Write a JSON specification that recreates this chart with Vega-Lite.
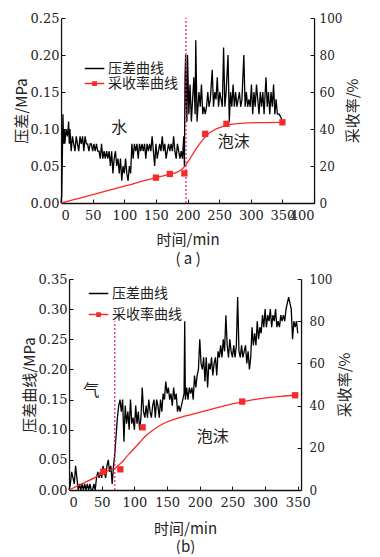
{
  "$schema": "https://vega.github.io/schema/vega-lite/v6.json",
  "padding": {"left": 14, "top": 12, "right": 0, "bottom": 0},
  "background": "white",
  "spacing": 7,
  "center": true,
  "datasets": {
    "pa": [
      {"t":0,"p":0.0},{"t":1,"p":0.01},{"t":2,"p":0.06},{"t":3,"p":0.12},{"t":4,"p":0.08},{"t":5,"p":0.10},{"t":6,"p":0.08},{"t":8,"p":0.10},{"t":10,"p":0.09},{"t":12,"p":0.11},{"t":13,"p":0.08},{"t":14,"p":0.10},{"t":16,"p":0.07},{"t":18,"p":0.09},{"t":20,"p":0.08},{"t":22,"p":0.07},{"t":24,"p":0.09},{"t":26,"p":0.08},{"t":28,"p":0.07},{"t":30,"p":0.09},{"t":32,"p":0.08},{"t":34,"p":0.09},{"t":36,"p":0.07},{"t":38,"p":0.09},{"t":40,"p":0.08},{"t":42,"p":0.08},{"t":44,"p":0.07},{"t":46,"p":0.08},{"t":48,"p":0.08},{"t":50,"p":0.07},{"t":52,"p":0.08},{"t":54,"p":0.07},{"t":56,"p":0.08},{"t":58,"p":0.07},{"t":60,"p":0.07},{"t":62,"p":0.06},{"t":64,"p":0.08},{"t":66,"p":0.06},{"t":68,"p":0.07},{"t":70,"p":0.06},{"t":72,"p":0.07},{"t":74,"p":0.06},{"t":76,"p":0.07},{"t":78,"p":0.05},{"t":80,"p":0.07},{"t":82,"p":0.04},{"t":84,"p":0.06},{"t":86,"p":0.07},{"t":88,"p":0.05},{"t":90,"p":0.06},{"t":92,"p":0.04},{"t":94,"p":0.06},{"t":96,"p":0.03},{"t":98,"p":0.05},{"t":100,"p":0.04},{"t":102,"p":0.06},{"t":104,"p":0.04},{"t":106,"p":0.03},{"t":108,"p":0.05},{"t":110,"p":0.04},{"t":112,"p":0.08},{"t":114,"p":0.06},{"t":116,"p":0.08},{"t":118,"p":0.07},{"t":120,"p":0.08},{"t":122,"p":0.06},{"t":124,"p":0.08},{"t":126,"p":0.07},{"t":128,"p":0.08},{"t":130,"p":0.07},{"t":132,"p":0.08},{"t":134,"p":0.06},{"t":136,"p":0.08},{"t":138,"p":0.07},{"t":140,"p":0.08},{"t":142,"p":0.07},{"t":144,"p":0.09},{"t":146,"p":0.07},{"t":148,"p":0.05},{"t":150,"p":0.08},{"t":152,"p":0.06},{"t":154,"p":0.07},{"t":156,"p":0.08},{"t":158,"p":0.07},{"t":160,"p":0.09},{"t":162,"p":0.07},{"t":164,"p":0.08},{"t":166,"p":0.06},{"t":168,"p":0.07},{"t":170,"p":0.08},{"t":172,"p":0.07},{"t":174,"p":0.08},{"t":176,"p":0.07},{"t":178,"p":0.09},{"t":180,"p":0.07},{"t":182,"p":0.06},{"t":184,"p":0.08},{"t":186,"p":0.07},{"t":188,"p":0.06},{"t":190,"p":0.07},{"t":192,"p":0.06},{"t":194,"p":0.09},{"t":195,"p":0.05},{"t":196,"p":0.17},{"t":197,"p":0.20},{"t":198,"p":0.13},{"t":199,"p":0.11},{"t":200,"p":0.20},{"t":202,"p":0.12},{"t":204,"p":0.16},{"t":206,"p":0.11},{"t":208,"p":0.14},{"t":210,"p":0.17},{"t":212,"p":0.12},{"t":213,"p":0.22},{"t":215,"p":0.11},{"t":218,"p":0.15},{"t":220,"p":0.13},{"t":222,"p":0.16},{"t":224,"p":0.12},{"t":226,"p":0.13},{"t":228,"p":0.12},{"t":230,"p":0.13},{"t":232,"p":0.15},{"t":234,"p":0.13},{"t":236,"p":0.14},{"t":239,"p":0.18},{"t":241,"p":0.13},{"t":243,"p":0.15},{"t":245,"p":0.14},{"t":247,"p":0.17},{"t":249,"p":0.13},{"t":251,"p":0.15},{"t":253,"p":0.14},{"t":255,"p":0.13},{"t":257,"p":0.21},{"t":259,"p":0.13},{"t":261,"p":0.15},{"t":264,"p":0.20},{"t":266,"p":0.11},{"t":268,"p":0.15},{"t":270,"p":0.13},{"t":272,"p":0.16},{"t":274,"p":0.13},{"t":276,"p":0.15},{"t":278,"p":0.13},{"t":280,"p":0.14},{"t":282,"p":0.15},{"t":284,"p":0.13},{"t":286,"p":0.14},{"t":289,"p":0.20},{"t":291,"p":0.13},{"t":293,"p":0.15},{"t":295,"p":0.13},{"t":297,"p":0.14},{"t":299,"p":0.13},{"t":301,"p":0.16},{"t":303,"p":0.12},{"t":305,"p":0.15},{"t":307,"p":0.13},{"t":309,"p":0.16},{"t":311,"p":0.14},{"t":313,"p":0.12},{"t":315,"p":0.15},{"t":317,"p":0.13},{"t":319,"p":0.15},{"t":321,"p":0.12},{"t":324,"p":0.17},{"t":326,"p":0.13},{"t":328,"p":0.15},{"t":330,"p":0.12},{"t":332,"p":0.15},{"t":334,"p":0.13},{"t":336,"p":0.16},{"t":338,"p":0.12},{"t":340,"p":0.14},{"t":342,"p":0.12},{"t":345,"p":0.12},{"t":348,"p":0.115},{"t":350,"p":0.11}
    ],
    "ca": [
      {"t":0,"r":0},{"t":20,"r":1.8},{"t":50,"r":4.5},{"t":100,"r":9.1},{"t":150,"r":13.7},{"t":172,"r":15.6},{"t":183,"r":16.6},{"t":190,"r":18},{"t":196,"r":20},{"t":203,"r":23.5},{"t":210,"r":27.4},{"t":216,"r":30.5},{"t":223,"r":33.7},{"t":230,"r":36.3},{"t":236,"r":38.2},{"t":244,"r":39.8},{"t":252,"r":40.9},{"t":262,"r":42.2},{"t":275,"r":42.8},{"t":289,"r":43.2},{"t":320,"r":43.5},{"t":351,"r":43.6}
    ],
    "ma": [
      {"t":150,"r":13.7},{"t":172,"r":15.7},{"t":195,"r":16},{"t":228,"r":37.4},{"t":261.5,"r":42.8},{"t":350,"r":43.6}
    ],
    "ra": [{"t":197.5,"p":0,"p2":0.25}],
    "ta": [{"t":92,"p":0.101,"label":"水"},{"t":273,"p":0.082,"label":"泡沫"}],
    "pb": [
      {"t":0,"p":0.0},{"t":2,"p":0.01},{"t":4,"p":0.03},{"t":6,"p":0.02},{"t":8,"p":0.01},{"t":10,"p":0.04},{"t":12,"p":0.02},{"t":14,"p":0.0},{"t":16,"p":0.01},{"t":18,"p":0.0},{"t":20,"p":0.01},{"t":22,"p":0.0},{"t":24,"p":0.01},{"t":26,"p":0.0},{"t":28,"p":0.01},{"t":30,"p":0.0},{"t":32,"p":0.01},{"t":34,"p":0.0},{"t":36,"p":0.0},{"t":38,"p":0.01},{"t":40,"p":0.0},{"t":42,"p":0.02},{"t":44,"p":0.03},{"t":46,"p":0.02},{"t":48,"p":0.03},{"t":50,"p":0.02},{"t":52,"p":0.04},{"t":54,"p":0.03},{"t":56,"p":0.02},{"t":58,"p":0.04},{"t":60,"p":0.05},{"t":62,"p":0.03},{"t":64,"p":0.04},{"t":66,"p":0.01},{"t":68,"p":0.04},{"t":70,"p":0.06},{"t":72,"p":0.09},{"t":74,"p":0.12},{"t":76,"p":0.14},{"t":78,"p":0.15},{"t":80,"p":0.13},{"t":82,"p":0.15},{"t":84,"p":0.08},{"t":86,"p":0.14},{"t":88,"p":0.11},{"t":90,"p":0.13},{"t":92,"p":0.10},{"t":94,"p":0.15},{"t":96,"p":0.11},{"t":98,"p":0.12},{"t":100,"p":0.10},{"t":102,"p":0.14},{"t":104,"p":0.11},{"t":106,"p":0.13},{"t":108,"p":0.10},{"t":110,"p":0.12},{"t":112,"p":0.17},{"t":114,"p":0.13},{"t":116,"p":0.12},{"t":118,"p":0.14},{"t":120,"p":0.12},{"t":122,"p":0.15},{"t":124,"p":0.13},{"t":126,"p":0.12},{"t":128,"p":0.14},{"t":130,"p":0.15},{"t":132,"p":0.12},{"t":134,"p":0.15},{"t":136,"p":0.14},{"t":138,"p":0.12},{"t":140,"p":0.15},{"t":142,"p":0.13},{"t":144,"p":0.16},{"t":146,"p":0.15},{"t":148,"p":0.18},{"t":150,"p":0.16},{"t":152,"p":0.17},{"t":154,"p":0.15},{"t":156,"p":0.16},{"t":158,"p":0.14},{"t":160,"p":0.17},{"t":162,"p":0.15},{"t":164,"p":0.16},{"t":166,"p":0.13},{"t":168,"p":0.14},{"t":170,"p":0.13},{"t":172,"p":0.14},{"t":174,"p":0.15},{"t":176,"p":0.16},{"t":177,"p":0.28},{"t":178,"p":0.15},{"t":180,"p":0.17},{"t":182,"p":0.15},{"t":184,"p":0.17},{"t":186,"p":0.16},{"t":188,"p":0.17},{"t":190,"p":0.15},{"t":192,"p":0.19},{"t":194,"p":0.17},{"t":196,"p":0.19},{"t":198,"p":0.20},{"t":200,"p":0.25},{"t":202,"p":0.21},{"t":204,"p":0.20},{"t":206,"p":0.22},{"t":208,"p":0.18},{"t":210,"p":0.22},{"t":212,"p":0.17},{"t":214,"p":0.21},{"t":216,"p":0.20},{"t":218,"p":0.22},{"t":220,"p":0.19},{"t":222,"p":0.21},{"t":224,"p":0.22},{"t":226,"p":0.19},{"t":228,"p":0.23},{"t":230,"p":0.22},{"t":232,"p":0.24},{"t":234,"p":0.22},{"t":236,"p":0.25},{"t":238,"p":0.23},{"t":240,"p":0.29},{"t":242,"p":0.24},{"t":244,"p":0.22},{"t":246,"p":0.25},{"t":248,"p":0.23},{"t":250,"p":0.22},{"t":252,"p":0.24},{"t":254,"p":0.22},{"t":256,"p":0.24},{"t":258,"p":0.32},{"t":260,"p":0.23},{"t":262,"p":0.22},{"t":264,"p":0.24},{"t":266,"p":0.22},{"t":268,"p":0.23},{"t":270,"p":0.24},{"t":272,"p":0.21},{"t":274,"p":0.23},{"t":276,"p":0.20},{"t":278,"p":0.22},{"t":280,"p":0.27},{"t":282,"p":0.24},{"t":284,"p":0.26},{"t":286,"p":0.24},{"t":288,"p":0.28},{"t":290,"p":0.25},{"t":292,"p":0.27},{"t":294,"p":0.26},{"t":296,"p":0.29},{"t":298,"p":0.27},{"t":300,"p":0.30},{"t":302,"p":0.27},{"t":304,"p":0.29},{"t":306,"p":0.28},{"t":308,"p":0.30},{"t":310,"p":0.27},{"t":312,"p":0.29},{"t":314,"p":0.28},{"t":316,"p":0.30},{"t":318,"p":0.27},{"t":320,"p":0.28},{"t":322,"p":0.27},{"t":324,"p":0.29},{"t":326,"p":0.28},{"t":328,"p":0.29},{"t":330,"p":0.28},{"t":332,"p":0.30},{"t":334,"p":0.31},{"t":336,"p":0.32},{"t":338,"p":0.31},{"t":340,"p":0.30},{"t":342,"p":0.25},{"t":344,"p":0.28},{"t":346,"p":0.27},{"t":348,"p":0.28},{"t":350,"p":0.26}
    ],
    "cb": [
      {"t":0,"r":0},{"t":20,"r":3},{"t":40,"r":6},{"t":52,"r":8.2},{"t":62,"r":9.4},{"t":70,"r":10.3},{"t":76,"r":11.8},{"t":82,"r":13.5},{"t":88,"r":15.8},{"t":94,"r":17.8},{"t":100,"r":19.8},{"t":108,"r":22.5},{"t":116,"r":25.2},{"t":126,"r":27.8},{"t":136,"r":30},{"t":148,"r":32},{"t":162,"r":33.6},{"t":180,"r":35.2},{"t":197,"r":36.6},{"t":213,"r":37.9},{"t":230,"r":39.3},{"t":250,"r":40.8},{"t":265,"r":41.8},{"t":285,"r":42.9},{"t":305,"r":43.8},{"t":325,"r":44.4},{"t":347,"r":44.9}
    ],
    "mb": [
      {"t":52.5,"r":8.7},{"t":78.5,"r":9.8},{"t":112.6,"r":29.7},{"t":265,"r":41.9},{"t":346,"r":44.9}
    ],
    "rb": [{"t":70,"p":0,"p2":0.28}],
    "tb": [{"t":34,"p":0.165,"label":"气"},{"t":220,"p":0.088,"label":"泡沫"}]
  },
  "vconcat": [
    {
      "width": 253,
      "height": 185,
      "layer": [
        {
          "layer": [
            {
              "data": {"name": "pa"},
              "mark": {"type": "line", "strokeWidth": 1.3},
              "encoding": {
                "x": {"field": "t", "type": "quantitative", "scale": {"domain": [0, 400], "nice": false},
                      "axis": {"values": [0, 50, 100, 150, 200, 250, 300, 350, 400], "tickCount": 20, "title": ["时间/min", "( a )"], "labelPadding": 10, "titlePadding": 10}},
                "y": {"field": "p", "type": "quantitative", "scale": {"domain": [0, 0.25], "nice": false},
                      "axis": {"values": [0, 0.05, 0.1, 0.15, 0.2, 0.25], "tickCount": 20, "format": ".2f", "title": "压差/MPa"}},
                "color": {"datum": "压差曲线", "type": "nominal",
                          "scale": {"domain": ["压差曲线", "采收率曲线"], "range": ["#000000", "#f52a2a"]},
                          "legend": {"orient": "none", "legendX": 26, "legendY": 43, "rowPadding": 0,
                                     "encode": {"symbols": {"update": {
                                       "shape": {"signal": "datum.value === '采收率曲线' ? 'M-1.5,0H1.5M-0.25,-0.25H0.25V0.25H-0.25Z' : 'M-1.5,0H1.5'"},
                                       "fill": {"signal": "datum.value === '采收率曲线' ? '#f52a2a' : 'transparent'"}}}}}}
              }
            },
            {
              "data": {"name": "ra"},
              "mark": {"type": "rule", "color": "#ee1c8c", "strokeDash": [2, 2], "strokeWidth": 1.3},
              "encoding": {"x": {"field": "t", "type": "quantitative"}, "y": {"field": "p", "type": "quantitative"}, "y2": {"field": "p2"}}
            },
            {
              "data": {"name": "ta"},
              "mark": {"type": "text", "font": "Noto Sans CJK SC", "fontSize": 16, "color": "#222"},
              "encoding": {"x": {"field": "t", "type": "quantitative"}, "y": {"field": "p", "type": "quantitative"}, "text": {"field": "label"}}
            }
          ]
        },
        {
          "layer": [
            {
              "data": {"name": "ca"},
              "mark": {"type": "line", "strokeWidth": 1.3, "interpolate": "monotone"},
              "encoding": {
                "x": {"field": "t", "type": "quantitative"},
                "y": {"field": "r", "type": "quantitative", "scale": {"domain": [0, 100], "nice": false},
                      "axis": {"orient": "right", "values": [0, 20, 40, 60, 80, 100], "tickCount": 20, "labelPadding": 9, "labelFontSize": 12, "title": "采收率/%", "titleAngle": 270, "titleBaseline": "top", "titlePadding": 4}},
                "color": {"datum": "采收率曲线", "type": "nominal"}
              }
            },
            {
              "data": {"name": "ma"},
              "mark": {"type": "square", "size": 40, "color": "#f52a2a", "opacity": 1},
              "encoding": {"x": {"field": "t", "type": "quantitative"}, "y": {"field": "r", "type": "quantitative"}}
            }
          ]
        }
      ],
      "resolve": {"scale": {"y": "independent"}}
    },
    {
      "width": 232,
      "height": 211,
      "layer": [
        {
          "layer": [
            {
              "data": {"name": "pb"},
              "mark": {"type": "line", "strokeWidth": 1.3},
              "encoding": {
                "x": {"field": "t", "type": "quantitative", "scale": {"domain": [0, 355], "nice": false},
                      "axis": {"values": [0, 50, 100, 150, 200, 250, 300, 350], "tickCount": 20, "title": ["时间/min", "(b)"], "labelPadding": 10, "titlePadding": 12, "titleLineHeight": 18}},
                "y": {"field": "p", "type": "quantitative", "scale": {"domain": [0, 0.35], "nice": false},
                      "axis": {"values": [0, 0.05, 0.1, 0.15, 0.2, 0.25, 0.3, 0.35], "tickCount": 20, "format": ".2f", "title": "压差曲线/MPa"}},
                "color": {"datum": "压差曲线", "type": "nominal",
                          "scale": {"domain": ["压差曲线", "采收率曲线"], "range": ["#000000", "#f52a2a"]},
                          "legend": {"orient": "none", "legendX": 22, "legendY": 7, "rowPadding": 6,
                                     "encode": {"symbols": {"update": {
                                       "shape": {"signal": "datum.value === '采收率曲线' ? 'M-1.5,0H1.5M-0.25,-0.25H0.25V0.25H-0.25Z' : 'M-1.5,0H1.5'"},
                                       "fill": {"signal": "datum.value === '采收率曲线' ? '#f52a2a' : 'transparent'"}}}}}}
              }
            },
            {
              "data": {"name": "rb"},
              "mark": {"type": "rule", "color": "#ee1c8c", "strokeDash": [2, 2], "strokeWidth": 1.3},
              "encoding": {"x": {"field": "t", "type": "quantitative"}, "y": {"field": "p", "type": "quantitative"}, "y2": {"field": "p2"}}
            },
            {
              "data": {"name": "tb"},
              "mark": {"type": "text", "font": "Noto Sans CJK SC", "fontSize": 16, "color": "#222"},
              "encoding": {"x": {"field": "t", "type": "quantitative"}, "y": {"field": "p", "type": "quantitative"}, "text": {"field": "label"}}
            }
          ]
        },
        {
          "layer": [
            {
              "data": {"name": "cb"},
              "mark": {"type": "line", "strokeWidth": 1.3, "interpolate": "monotone"},
              "encoding": {
                "x": {"field": "t", "type": "quantitative"},
                "y": {"field": "r", "type": "quantitative", "scale": {"domain": [0, 100], "nice": false},
                      "axis": {"orient": "right", "values": [0, 20, 40, 60, 80, 100], "tickCount": 20, "labelPadding": 12, "labelFontSize": 12, "title": "采收率/%", "titleAngle": 270, "titleBaseline": "top", "titlePadding": 6}},
                "color": {"datum": "采收率曲线", "type": "nominal"}
              }
            },
            {
              "data": {"name": "mb"},
              "mark": {"type": "square", "size": 40, "color": "#f52a2a", "opacity": 1},
              "encoding": {"x": {"field": "t", "type": "quantitative"}, "y": {"field": "r", "type": "quantitative"}}
            }
          ]
        }
      ],
      "resolve": {"scale": {"y": "independent"}}
    }
  ],
  "resolve": {"scale": {"color": "independent"}, "legend": {"color": "independent"}},
  "config": {
    "view": {"stroke": null},
    "axis": {
      "grid": false,
      "tickCount": 20,
      "labelOverlap": false,
      "domainColor": "#111",
      "domainWidth": 1.3,
      "tickColor": "#111",
      "tickSize": -4,
      "labelPadding": 6,
      "labelFont": "DejaVu Serif",
      "labelFontSize": 13,
      "labelColor": "#222",
      "titleFont": "Noto Sans CJK SC",
      "titleFontSize": 15,
      "titleFontWeight": "normal",
      "titleColor": "#222",
      "titlePadding": 1,
      "titleLineHeight": 19
    },
    "legend": {
      "title": null,
      "padding": 0,
      "labelFont": "Noto Sans CJK SC",
      "labelFontSize": 14,
      "labelColor": "#222",
      "labelOffset": 6,
      "symbolSize": 169,
      "symbolStrokeWidth": 1.5,
      "symbolType": "stroke"
    }
  }
}
